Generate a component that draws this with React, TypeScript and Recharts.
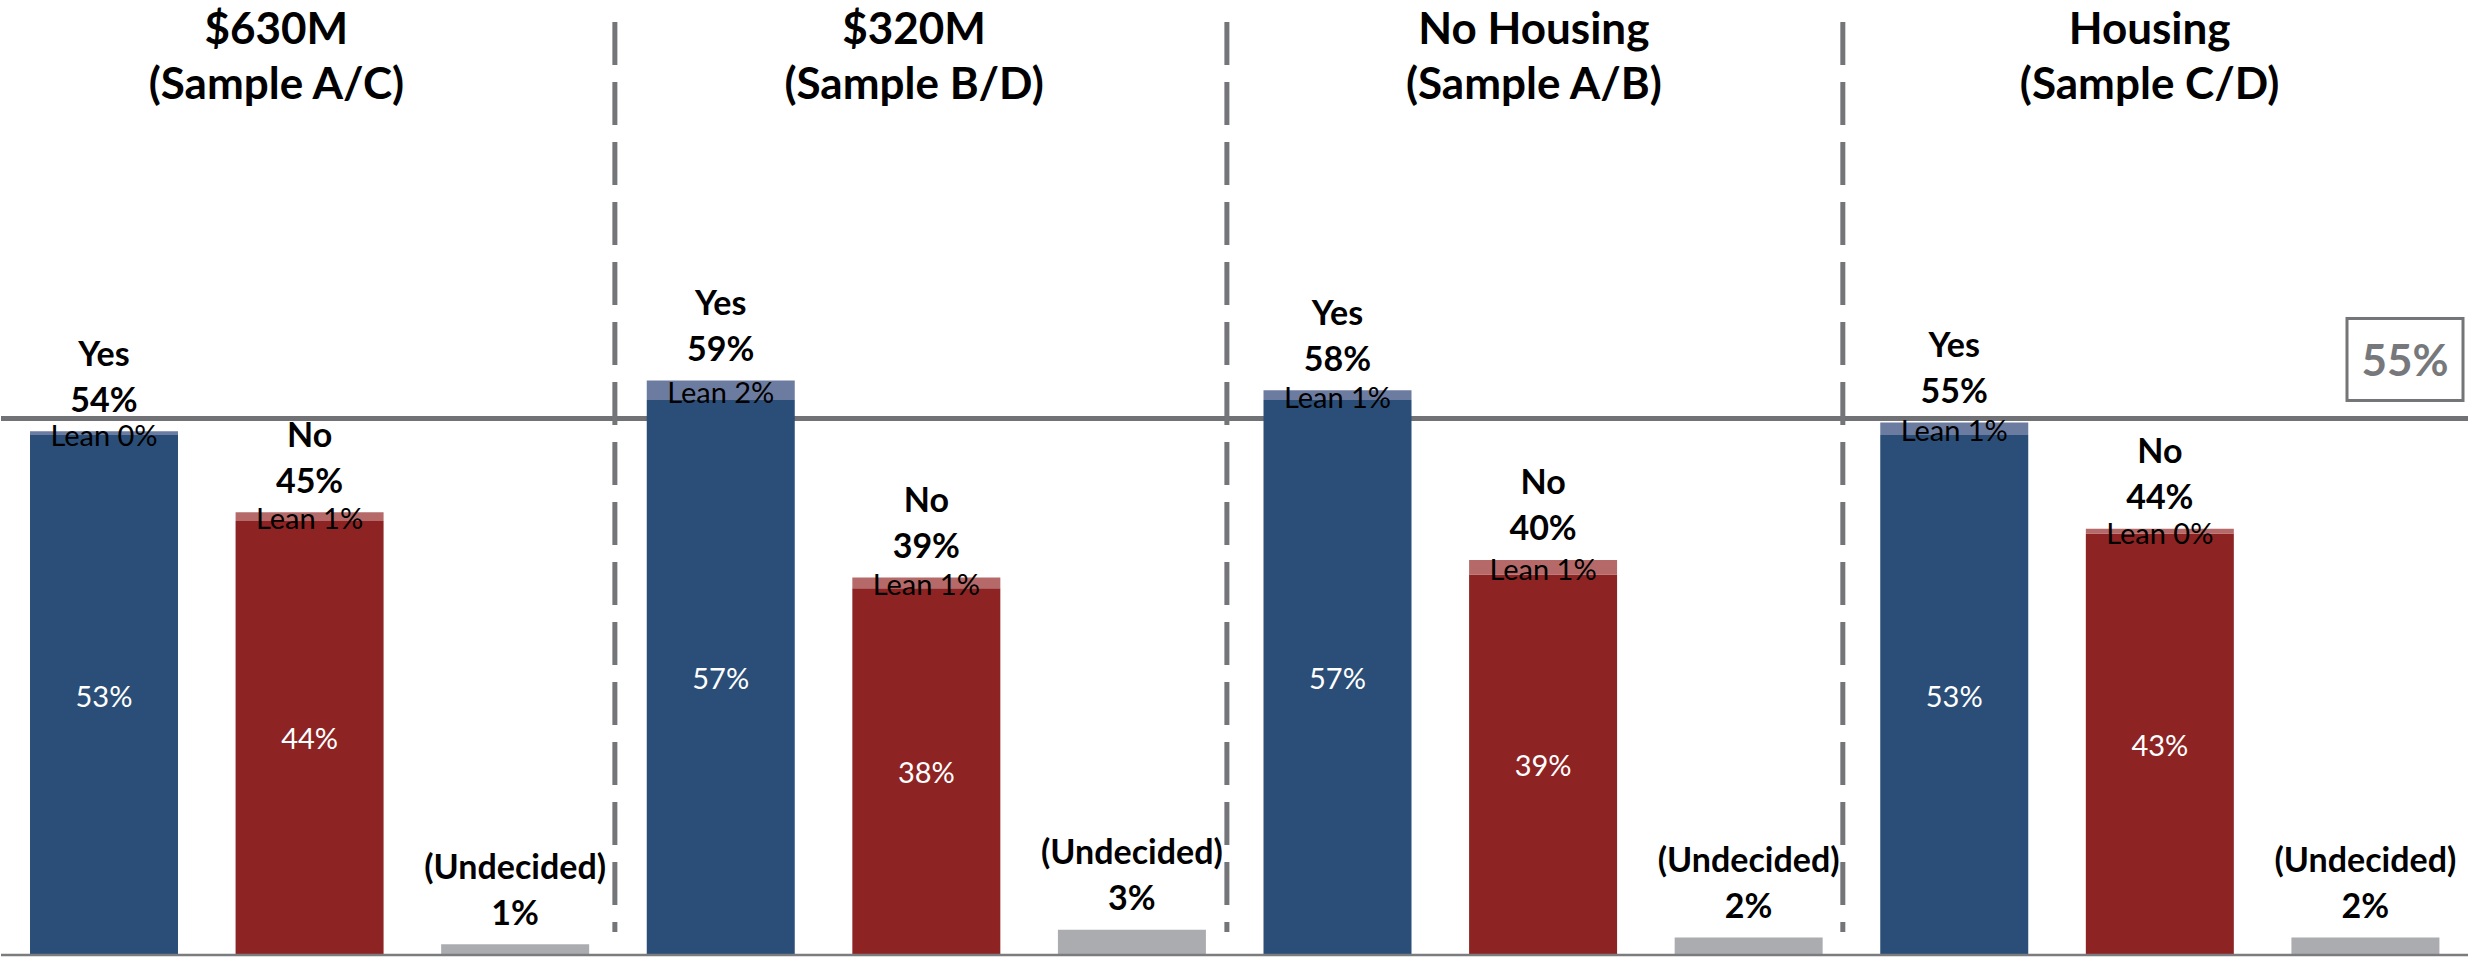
import { BarChart, Bar, XAxis, YAxis, Cell, LabelList, ReferenceLine } from 'recharts'

const groups = ['$630M', '$320M', 'No Housing', 'Housing']
const samples = ['(Sample A/C)', '(Sample B/D)', '(Sample A/B)', '(Sample C/D)']
const answers = ['Yes', 'No', '(Undecided)']

// bar heights (solid part + lean part)
const yesSolid = [53.3, 56.9, 56.9, 53.3]
const yesLean = [0.4, 2.0, 1.0, 1.3]
const noSolid = [44.5, 37.6, 39.0, 43.2]
const noLean = [0.9, 1.1, 1.5, 0.5]
const undecided = [1.1, 2.6, 1.8, 1.8]

// percentages as printed on the chart
const yesTotalPct = [54, 59, 58, 55]
const yesSolidPct = [53, 57, 57, 53]
const yesLeanPct = [0, 2, 1, 1]
const noTotalPct = [45, 39, 40, 44]
const noSolidPct = [44, 38, 39, 43]
const noLeanPct = [1, 1, 1, 0]
const undecidedPct = [1, 3, 2, 2]

const target = 55

const FONT = 'Lato, "Noto Sans", sans-serif'
const GRAY = '#747578'

const solidColor: Record<string, string> = { yes: '#2a4e77', no: '#8e2323', und: '#abacaf' }
const leanColor: Record<string, string> = { yes: '#6c7ca0', no: '#b56a69', und: '#abacaf' }

const rows = groups
  .flatMap((g, i) => [
    { key: `${g}-yes`, kind: 'yes', name: answers[0], solid: yesSolid[i], lean: yesLean[i], total: yesTotalPct[i], solidPct: yesSolidPct[i], leanPct: yesLeanPct[i] },
    { key: `${g}-no`, kind: 'no', name: answers[1], solid: noSolid[i], lean: noLean[i], total: noTotalPct[i], solidPct: noSolidPct[i], leanPct: noLeanPct[i] },
    { key: `${g}-und`, kind: 'und', name: answers[2], solid: undecided[i], lean: 0, total: undecidedPct[i], solidPct: undecidedPct[i], leanPct: 0 },
  ])
  .map((r, idx) => ({ ...r, pos: idx + 0.5 }))
const rowByKey = Object.fromEntries(rows.map((r) => [r.key, r]))

// group separators sit just left of the category boundaries
const separators = [2.986, 5.963, 8.959]
const boundaries = [0, 1, 2, 3, 4, 5, 6, 7, 8, 9, 10, 11, 12]
const titleShift = [-33, -12, -9, -10]

const TopText = ({ cx, top, r }: { cx: number; top: number; r: any }) => (
  <g>
    <text x={cx} y={top - 79} textAnchor="middle" dominantBaseline="central" fontFamily={FONT} fontWeight="bold" fontSize={34} fill="#000">
      {r.name}
    </text>
    <text x={cx} y={top - 33} textAnchor="middle" dominantBaseline="central" fontFamily={FONT} fontWeight="bold" fontSize={34} fill="#000">
      {`${r.total}%`}
    </text>
  </g>
)

// labels on the lean part: name + total above, "Lean x%" inside
const renderLean = (props: any) => {
  const { x, y, width, height, value } = props
  const r = rowByKey[value]
  if (!r || r.kind === 'und') return null
  const cx = Number(x) + Number(width) / 2
  const top = Number(y)
  return (
    <g>
      <TopText cx={cx} top={top} r={r} />
      <text x={cx} y={top + Number(height) / 2 + 1} textAnchor="middle" dominantBaseline="central" fontFamily={FONT} fontSize={29} fill="#000">
        {`Lean ${r.leanPct}%`}
      </text>
    </g>
  )
}

// labels on the solid part: white value inside, or the undecided label above
const renderSolid = (props: any) => {
  const { x, y, width, height, value } = props
  const r = rowByKey[value]
  if (!r) return null
  const cx = Number(x) + Number(width) / 2
  if (r.kind === 'und') return <TopText cx={cx} top={Number(y)} r={r} />
  return (
    <text x={cx} y={Number(y) + Number(height) / 2} textAnchor="middle" dominantBaseline="central" fontFamily={FONT} fontSize={29} fill="#fff">
      {`${r.solidPct}%`}
    </text>
  )
}

const titleLabel = (i: number) => (props: any) => {
  const vb = props.viewBox || {}
  const cx = Number(vb.x) + titleShift[i]
  return (
    <g>
      <text x={cx} y={27} textAnchor="middle" dominantBaseline="central" fontFamily={FONT} fontWeight="bold" fontSize={44} fill="#000">
        {groups[i]}
      </text>
      <text x={cx} y={82} textAnchor="middle" dominantBaseline="central" fontFamily={FONT} fontWeight="bold" fontSize={44} fill="#000">
        {samples[i]}
      </text>
    </g>
  )
}

const targetLabel = (props: any) => {
  const vb = props.viewBox || {}
  const right = Number(vb.x) + Number(vb.width)
  const ly = Number(vb.y)
  return (
    <g>
      <rect x={right - 121} y={ly - 100} width={116} height={82} fill="#fff" stroke={GRAY} strokeWidth={3} />
      <text x={right - 63} y={ly - 59} textAnchor="middle" dominantBaseline="central" fontFamily={FONT} fontWeight="bold" fontSize={44} fill="#77787b">
        {`${target}%`}
      </text>
    </g>
  )
}

export default function App() {
  return (
    <div style={{ position: 'absolute', left: 0, top: 0, width: 2468, height: 963, background: '#fff', overflow: 'hidden' }}>
      <BarChart width={2468} height={963} data={rows} margin={{ top: 0, right: 0, left: 1, bottom: 0 }} barSize={148}>
        <XAxis xAxisId="cat" dataKey="key" hide />
        <XAxis
          dataKey="pos"
          type="number"
          domain={[0, 12]}
          allowDataOverflow
          ticks={boundaries}
          interval={0}
          tick={false}
          tickSize={8}
          height={8}
          tickLine={{ stroke: '#7b7c7f', strokeWidth: 2 }}
          axisLine={{ stroke: '#7b7c7f', strokeWidth: 2.5 }}
        />
        <YAxis hide domain={[0, 97.9]} allowDataOverflow />
        <ReferenceLine y={target} stroke="#717275" strokeWidth={5} zIndex={250} label={targetLabel} />
        {separators.map((s) => (
          <ReferenceLine
            key={s}
            segment={[{ x: s, y: 95.64 }, { x: s, y: 2.36 }]}
            stroke={GRAY}
            strokeWidth={5}
            strokeDasharray="43 17"
            zIndex={260}
          />
        ))}
        {groups.map((g, i) => (
          <ReferenceLine key={g} x={1.5 + 3 * i} stroke="none" label={titleLabel(i)} />
        ))}
        <Bar xAxisId="cat" dataKey="solid" stackId="a" isAnimationActive={false}>
          {rows.map((r) => (
            <Cell key={r.key} fill={solidColor[r.kind]} />
          ))}
          <LabelList dataKey="key" content={renderSolid} />
        </Bar>
        <Bar xAxisId="cat" dataKey="lean" stackId="a" isAnimationActive={false}>
          {rows.map((r) => (
            <Cell key={r.key} fill={leanColor[r.kind]} />
          ))}
          <LabelList dataKey="key" content={renderLean} />
        </Bar>
      </BarChart>
    </div>
  )
}
